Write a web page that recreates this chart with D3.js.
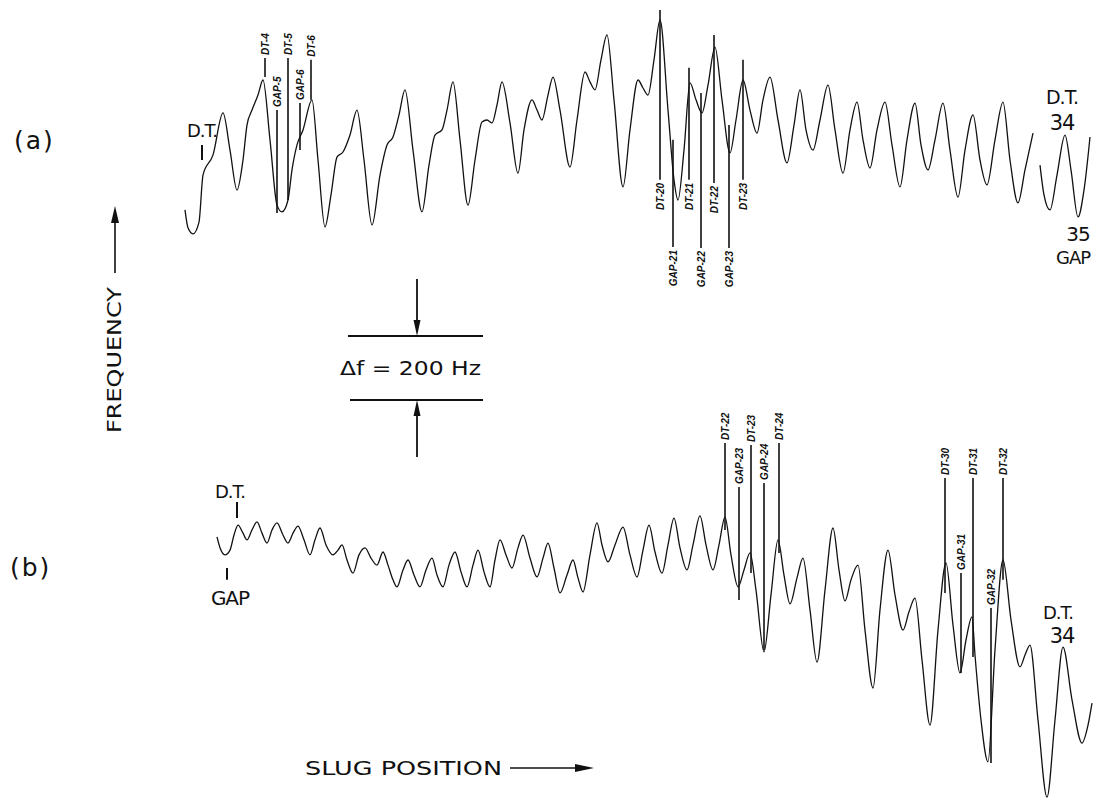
<!DOCTYPE html>
<html>
<head>
<meta charset="utf-8">
<script src="https://cdn.jsdelivr.net/npm/d3@7/dist/d3.min.js"></script>
<style>
  html, body { margin: 0; padding: 0; background: #fff; }
  svg { display: block; }
  text { font-family: "DejaVu Sans", "Liberation Sans", sans-serif; fill: #111; }
  .small { font-family: "Liberation Sans", "DejaVu Sans", sans-serif; font-style: italic; font-weight: bold; font-size: 10px; }
</style>
</head>
<body>
<svg id="chart" width="1101" height="801"></svg>
<script>
// ---------- DATA (slug position in arbitrary units, frequency offset in Hz) ----------
// Trace (a), first segment  [position, frequency Hz]
const traceA1 = [
  [0,94],[0.3,38],[0.8,19],[1.4,56],[1.8,203],[2.8,266],[3.8,397],[4.5,281],[5.2,156],
  [5.8,250],[6.2,359],[6.7,406],[7.3,453],[7.8,500],[8.5,313],[9.2,109],[9.7,88],[10.3,125],
  [10.7,219],[11.2,297],[11.8,344],[12.7,438],[13.3,250],[14.0,41],[14.6,141],[15.2,259],
  [15.8,275],[16.5,328],[17.2,406],[17.9,250],[18.7,47],[19.5,203],[20.2,297],[20.8,322],
  [21.4,391],[22.0,469],[22.8,281],[23.7,88],[24.4,234],[25.0,328],[25.7,344],[26.2,406],
  [26.8,494],[27.5,313],[28.3,109],[29.0,250],[29.7,369],[30.2,375],[30.7,366],[31.2,422],
  [31.7,494],[32.5,366],[33.3,209],[33.9,344],[34.7,438],[35.2,406],[35.7,375],[36.3,453],
  [36.8,509],[37.5,406],[38.5,228],[39.2,375],[40.0,525],[40.5,494],[41.0,469],[41.6,563],
  [42.2,641],[42.9,438],[43.8,166],[44.5,344],[45.3,500],[45.8,475],[46.3,453],[46.9,563],
  [47.5,688],[48.3,406],[48.9,188],[49.3,125],[49.9,281],[50.5,491],[51.1,438],[51.7,397],
  [52.3,484],[53.0,603],[53.7,438],[54.5,272],[55.1,375],[55.8,500],[56.5,406],[57.2,334],
  [57.8,438],[58.5,509],[59.3,375],[60.2,241],[60.9,359],[61.5,469],[62.1,344],[62.8,281],
  [63.5,375],[64.3,484],[65.0,344],[65.8,209],[66.5,344],[67.2,431],[67.8,313],[68.5,225],
  [69.2,344],[70.0,431],[70.7,297],[71.5,166],[72.2,313],[73.0,428],[73.6,297],[74.3,219],
  [75.0,313],[75.8,428],[76.5,281],[77.3,134],[78.0,281],[78.8,391],[79.5,250],[80.2,172],
  [81.0,313],[81.8,431],[82.5,250],[83.3,116],[84.0,219],[84.8,334]
];
// Trace (a), second segment (after D.T. 34)
const traceA2 = [
  [85.5,234],[85.9,141],[86.5,94],[87.2,203],[88.0,328],[88.6,219],[89.3,72],[89.9,156],[90.5,322]
];
// Trace (b)
const traceB = [
  [3.2,822],[3.5,788],[4.0,766],[4.5,781],[4.9,828],[5.3,859],[5.8,834],[6.2,813],[6.7,844],
  [7.2,869],[7.7,834],[8.2,803],[8.7,844],[9.2,866],[9.8,828],[10.3,803],[10.8,834],[11.3,856],
  [11.9,813],[12.5,766],[13.0,813],[13.5,850],[14.1,797],[14.8,766],[15.3,781],[15.7,797],
  [16.2,750],[16.8,709],[17.4,766],[18.0,788],[18.6,756],[19.2,734],[19.8,775],[20.3,734],
  [20.8,688],[21.2,666],[21.8,719],[22.3,750],[22.9,703],[23.5,666],[24.1,719],[24.7,756],
  [25.2,703],[25.8,666],[26.4,734],[27.0,775],[27.6,713],[28.2,666],[28.8,734],[29.3,781],
  [29.9,713],[30.5,666],[31.0,750],[31.5,813],[32.1,766],[32.7,725],[33.3,788],[33.8,828],
  [34.5,756],[35.2,697],[35.8,756],[36.3,803],[36.9,725],[37.5,647],[38.2,703],[38.8,750],
  [39.3,694],[39.8,650],[40.5,766],[41.2,866],[41.7,797],[42.3,744],[43.0,797],[43.8,853],
  [44.5,766],[45.2,697],[45.8,781],[46.4,859],[47.0,775],[47.7,709],[48.3,797],[48.9,881],
  [49.5,788],[50.2,719],[50.8,797],[51.5,888],[52.1,797],[52.8,719],[53.4,797],[54.0,884],
  [54.6,766],[55.3,666],[55.9,719],[56.5,772],[57.1,656],[57.9,463],[58.6,641],[59.3,813],
  [59.9,703],[60.5,613],[61.2,694],[61.8,756],[62.5,594],[63.2,431],[64.0,656],[64.8,850],
  [65.4,719],[66.0,622],[66.6,688],[67.3,734],[68.0,531],[68.8,350],[69.5,594],[70.3,781],
  [71.0,641],[71.8,531],[72.4,588],[73.0,631],[73.7,438],[74.5,234],[75.3,531],[76.1,741],
  [76.8,547],[77.5,397],[78.1,500],[78.7,572],[79.0,453],[79.6,250],[80.3,119],[81.0,469],
  [81.8,750],[82.6,563],[83.5,416],[84.0,453],[84.5,484],[85.3,250],[86.2,9],[87.0,250],
  [87.8,478],[88.7,313],[89.7,178],[90.3,234],[90.7,303]
];
// Marker labels: [label, position, line top Hz, line bottom Hz, text side]
const markersA = [
  ["DT-4", 8.0, 569, 509, "above"],
  ["GAP-5", 9.2, 406, 84, "above"],
  ["DT-5", 10.3, 569, 125, "above"],
  ["GAP-6", 11.5, 428, 281, "above"],
  ["DT-6", 12.6, 563, 438, "above"],
  ["DT-20", 47.5, 719, 188, "below"],
  ["GAP-21", 48.8, 313, -22, "below"],
  ["DT-21", 50.4, 538, 188, "below"],
  ["GAP-22", 51.6, 459, -25, "below"],
  ["DT-22", 52.9, 641, 178, "below"],
  ["GAP-23", 54.4, 359, -25, "below"],
  ["DT-23", 55.8, 563, 188, "below"]
];
const markersB = [
  ["DT-22", 54.0, 1116, 844, "above"],
  ["GAP-23", 55.4, 978, 625, "above"],
  ["DT-23", 56.6, 1109, 709, "above"],
  ["GAP-24", 57.9, 991, 469, "above"],
  ["DT-24", 59.4, 1116, 772, "above"],
  ["DT-30", 76.0, 1006, 647, "above"],
  ["GAP-31", 77.6, 709, 397, "above"],
  ["DT-31", 78.8, 1006, 447, "above"],
  ["GAP-32", 80.6, 600, 116, "above"],
  ["DT-32", 81.8, 1006, 688, "above"]
];
// Large annotations: [text, position, frequency Hz (baseline)]
const notesA = [["D.T.", 1.7, 322], ["D.T.", 87.7, 425], ["34", 87.7, 344], ["35", 89.3, -3], ["GAP", 88.8, -75]];
const notesB = [["D.T.", 4.5, 944], ["GAP", 4.5, 609], ["D.T.", 87.3, 566], ["34", 87.7, 491]];
// Short ticks under/over annotations: [position, from Hz, to Hz]
const ticksA = [[1.7, 297, 250]];
const ticksB = [[5.2, 931, 881], [4.2, 725, 688]];
const deltaF = 200;        // Hz, scale bar
const barBase = -500;      // Hz on trace (a) frequency scale where the bar's lower line sits

// ---------- DRAW ----------
const svg = d3.select("#chart");
const x = d3.scaleLinear().domain([0, 91]).range([185, 1095]);
const yA = d3.scaleLinear().domain([0, 750]).range([240, 0]);
const yB = d3.scaleLinear().domain([0, 1250]).range([800, 400]);

function drawTrace(data, y, w) {
  const line = d3.line().x(d => x(d[0])).y(d => y(d[1])).curve(d3.curveMonotoneX);
  svg.append("path").datum(data).attr("d", line)
    .attr("fill", "none").attr("stroke", "#111").attr("stroke-width", w || 1.3)
    .attr("stroke-linejoin", "round");
}
drawTrace(traceA1, yA);
drawTrace(traceA2, yA);
drawTrace(traceB, yB);

function drawMarkers(list, y) {
  const g = svg.append("g");
  g.selectAll("line").data(list).join("line")
    .attr("x1", d => x(d[1])).attr("x2", d => x(d[1]))
    .attr("y1", d => y(d[2])).attr("y2", d => y(d[3]))
    .attr("stroke", "#111").attr("stroke-width", 1.6);
  g.selectAll("text").data(list).join("text")
    .attr("class", "small")
    .attr("transform", d => {
      const px = x(d[1]);
      const py = d[4] === "above" ? y(d[2]) - 3 : y(d[3]) + 3;
      return `translate(${px},${py}) rotate(-90)`;
    })
    .attr("text-anchor", d => d[4] === "above" ? "start" : "end")
    .attr("dy", "0.35em")
    .text(d => d[0]);
}
drawMarkers(markersA, yA);
drawMarkers(markersB, yB);

function drawNotes(list, y, size) {
  svg.append("g").selectAll("text").data(list).join("text")
    .attr("x", d => x(d[1])).attr("y", d => y(d[2]))
    .attr("text-anchor", "middle")
    .attr("font-size", (d, i) => size[i])
    .attr("letter-spacing", "-1")
    .text(d => d[0]);
}
drawNotes(notesA, yA, [18, 19, 21, 20, 18]);
drawNotes(notesB, yB, [18, 20, 18, 21]);

function drawTicks(list, y) {
  svg.append("g").selectAll("line").data(list).join("line")
    .attr("x1", d => x(d[0])).attr("x2", d => x(d[0]))
    .attr("y1", d => y(d[1])).attr("y2", d => y(d[2]))
    .attr("stroke", "#111").attr("stroke-width", 2);
}
drawTicks(ticksA, yA);
drawTicks(ticksB, yB);

// Panel letters
svg.append("text").attr("x", 14).attr("y", 149).attr("font-size", 25).attr("letter-spacing", "2").text("(a)");
svg.append("text").attr("x", 10).attr("y", 576).attr("font-size", 25).attr("letter-spacing", "2").text("(b)");

// Frequency axis label with arrow
svg.append("text")
  .attr("transform", "translate(114,360) rotate(-90)")
  .attr("text-anchor", "middle").attr("dy", "0.35em")
  .attr("font-size", 20).attr("textLength", 146).attr("lengthAdjust", "spacingAndGlyphs")
  .text("FREQUENCY");
svg.append("line").attr("x1", 115).attr("x2", 115).attr("y1", 273).attr("y2", 218)
  .attr("stroke", "#111").attr("stroke-width", 1.6);
svg.append("path").attr("d", "M115,206 L111,223 L119,223 Z").attr("fill", "#111");

// Slug position label with arrow
svg.append("text").attr("x", 305).attr("y", 775)
  .attr("font-size", 20).attr("textLength", 197).attr("lengthAdjust", "spacingAndGlyphs")
  .text("SLUG POSITION");
svg.append("line").attr("x1", 510).attr("x2", 580).attr("y1", 768).attr("y2", 768)
  .attr("stroke", "#111").attr("stroke-width", 1.6);
svg.append("path").attr("d", "M594,768 L575,764 L575,772 Z").attr("fill", "#111");

// Δf scale bar drawn on trace (a) frequency scale
const yTop = yA(barBase + deltaF), yBot = yA(barBase);
const barX0 = 348, barX1 = 483, arrowX = 417;
svg.append("line").attr("x1", barX0).attr("x2", barX1).attr("y1", yTop).attr("y2", yTop).attr("stroke", "#111").attr("stroke-width", 1.8);
svg.append("line").attr("x1", barX0 + 2).attr("x2", barX1).attr("y1", yBot).attr("y2", yBot).attr("stroke", "#111").attr("stroke-width", 1.8);
svg.append("line").attr("x1", arrowX).attr("x2", arrowX).attr("y1", yTop - 57).attr("y2", yTop - 10).attr("stroke", "#111").attr("stroke-width", 1.8);
svg.append("path").attr("d", `M${arrowX},${yTop} L${arrowX-3.5},${yTop-16} L${arrowX+3.5},${yTop-16} Z`).attr("fill", "#111");
svg.append("line").attr("x1", arrowX).attr("x2", arrowX).attr("y1", yBot + 57).attr("y2", yBot + 10).attr("stroke", "#111").attr("stroke-width", 1.8);
svg.append("path").attr("d", `M${arrowX},${yBot} L${arrowX-3.5},${yBot+16} L${arrowX+3.5},${yBot+16} Z`).attr("fill", "#111");
svg.append("text").attr("x", 340).attr("y", (yTop + yBot) / 2).attr("dy", "0.36em")
  .attr("font-size", 20).attr("textLength", 141).attr("lengthAdjust", "spacingAndGlyphs")
  .text("\u0394f = " + deltaF + " Hz");
</script>
</body>
</html>
